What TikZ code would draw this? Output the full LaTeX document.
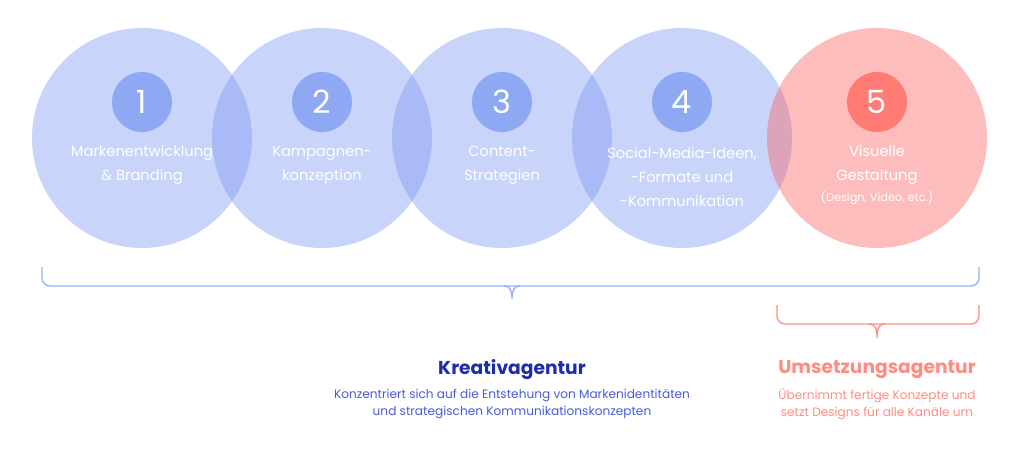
\documentclass[tikz,border=0pt]{standalone}
\usepackage{fontspec}
\setmainfont{Poppins}
\usepackage{xcolor}
\definecolor{bluefill}{RGB}{123,150,243}
\definecolor{bluenum}{RGB}{143,168,243}
\definecolor{bluedark}{RGB}{30,45,170}
\definecolor{bluetext}{RGB}{70,90,220}
\definecolor{bluebrace}{RGB}{150,175,245}
\definecolor{redfill}{RGB}{250,94,94}
\definecolor{rednum}{RGB}{255,124,116}
\definecolor{redtext}{RGB}{255,140,130}
\usetikzlibrary{shapes.geometric}

\begin{document}
\begin{tikzpicture}[x=.75pt, y=-.75pt,
    bigcirc/.style={circle,fill=bluefill,fill opacity=.41,inner sep=0,minimum size=165pt},
    numcirc/.style={circle,fill=bluenum,inner sep=0,minimum size=45pt,text=white,font=\fontsize{24}{24}\selectfont},
    lbl/.style={align=center,text=white,font=\fontsize{11}{18}\selectfont},
    head/.style={font=\fontsize{14}{16}\selectfont\bfseries},
    sub/.style={align=center,font=\fontsize{9.1}{12.75}\selectfont}]
    \useasboundingbox (0,0) rectangle (1024,454);
    % big circles
    \node at (142,138) [bigcirc] (c1) {};
    \node at (322,138) [bigcirc] (c2) {};
    \node at (502,138) [bigcirc] (c3) {};
    \node at (682,138) [bigcirc] (c4) {};
    \node at (877,138) [bigcirc,fill=redfill] (c5) {};
    % numbers
    \node at (142,102) [numcirc] (n1) {1};
    \node at (322,102) [numcirc] (n2) {2};
    \node at (502,102) [numcirc] (n3) {3};
    \node at (682,102) [numcirc] (n4) {4};
    \node at (877,102) [numcirc,fill=rednum] (n5) {5};
    % labels
    \node at (142,165) [lbl] (l1) {Markenentwicklung\\\& Branding};
    \node at (322,165) [lbl] (l2) {Kampagnen-\\konzeption};
    \node at (502,165) [lbl] (l3) {Content-\\Strategien};
    \node at (682,177) [lbl] (l4) {Social-Media-Ideen,\\-Formate und\\-Kommunikation};
    \node at (877,165) [lbl] (l5) {Visuelle\\Gestaltung};
    \node at (877,198) [lbl,font=\fontsize{8.5}{10}\selectfont] (l5b) {(Design, Video, etc.)};
    % braces
    \draw[bluebrace,line width=1pt,rounded corners=6pt] (42,267) -- (42,286) -- (979,286) -- (979,267);
    \draw[bluebrace,line width=1pt] (504,286) .. controls (510,286) and (512,290) .. (512,299)
        .. controls (512,290) and (514,286) .. (520,286);
    \draw[redtext,line width=1pt,rounded corners=6pt] (777,305) -- (777,324) -- (979,324) -- (979,305);
    \draw[redtext,line width=1pt] (869,324) .. controls (875,324) and (877,328) .. (877,338)
        .. controls (877,328) and (879,324) .. (885,324);
    % captions
    \node at (512,370) [head,text=bluedark] (k) {Kreativagentur};
    \node at (512,404) [sub,text=bluetext] (kt) {Konzentriert sich auf die Entstehung von Markenidentitäten\\und strategischen Kommunikationskonzepten};
    \node at (877,370) [head,text=redtext] (u) {Umsetzungsagentur};
    \node at (877,404) [sub,text=redtext] (ut) {Übernimmt fertige Konzepte und\\setzt Designs für alle Kanäle um};
\end{tikzpicture}
\end{document}
